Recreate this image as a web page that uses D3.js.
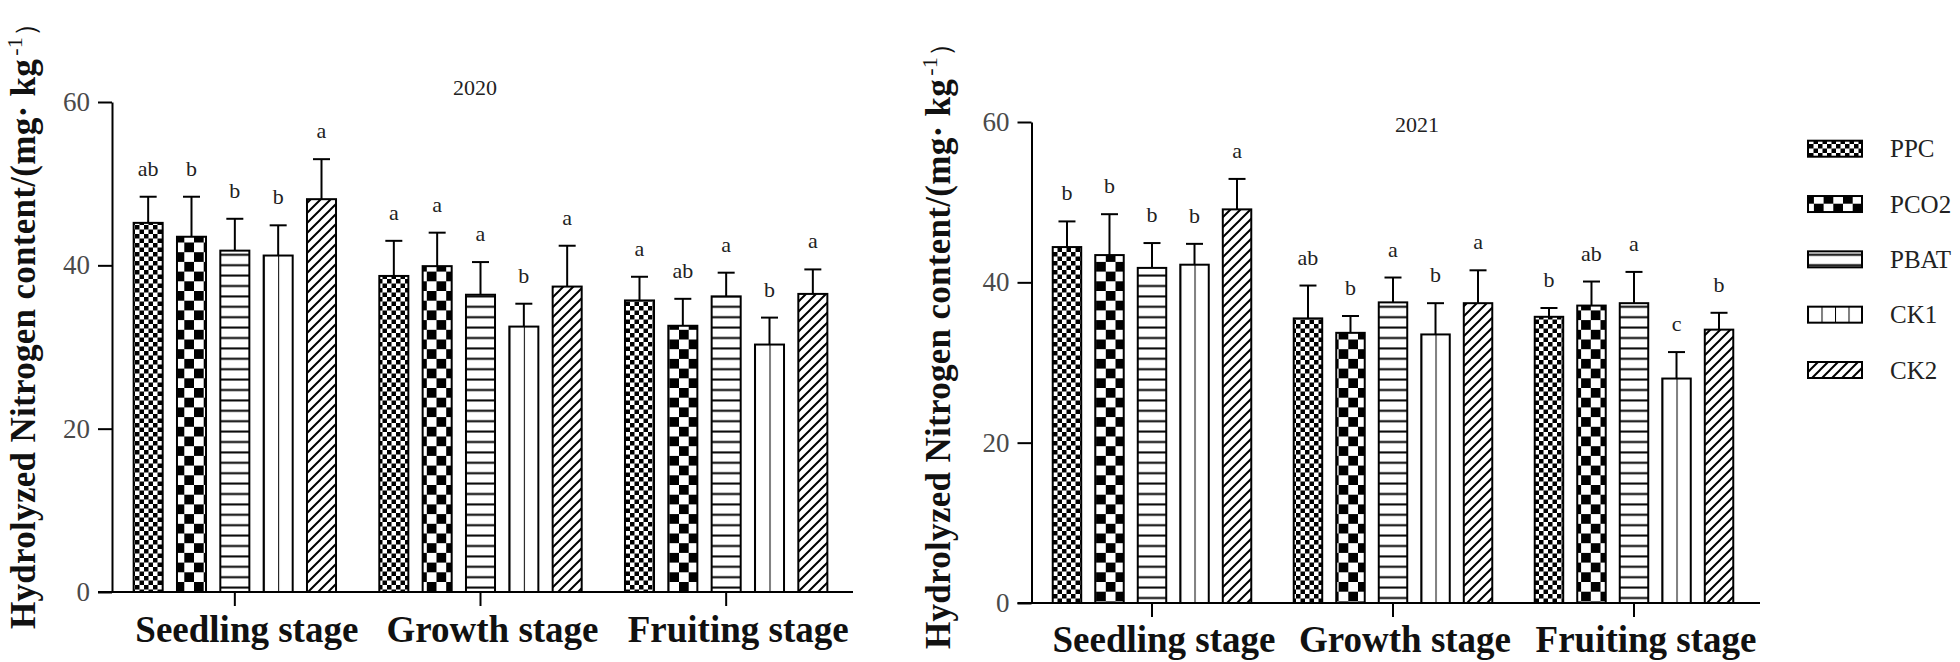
<!DOCTYPE html>
<html><head><meta charset="utf-8">
<script src="https://cdn.jsdelivr.net/npm/d3@7"></script>
<style>
html,body{margin:0;padding:0;background:#fff;}
svg{display:block;}
</style></head>
<body>
<svg id="chart" width="1960" height="662"></svg>
<script>
const categories = ["Seedling stage", "Growth stage", "Fruiting stage"];
const seriesNames = ["PPC", "PCO2", "PBAT", "CK1", "CK2"];
const yTicks = [0, 20, 40, 60];
const years = ["2020", "2021"];

// 2020 means / SD / significance letters (per series across categories)
const ppc2020 = [45.2, 38.7, 35.7];
const pco22020 = [43.5, 39.9, 32.6];
const pbat2020 = [41.8, 36.4, 36.2];
const ck12020 = [41.2, 32.5, 30.3];
const ck22020 = [48.1, 37.4, 36.5];
const ppcErr2020 = [3.2, 4.3, 2.9];
const pco2Err2020 = [4.9, 4.1, 3.3];
const pbatErr2020 = [3.9, 4.0, 2.9];
const ck1Err2020 = [3.7, 2.8, 3.3];
const ck2Err2020 = [4.9, 5.0, 3.0];
const ppcSig2020 = ["ab", "a", "a"];
const pco2Sig2020 = ["b", "a", "ab"];
const pbatSig2020 = ["b", "a", "a"];
const ck1Sig2020 = ["b", "b", "b"];
const ck2Sig2020 = ["a", "a", "a"];

// 2021
const ppc2021 = [44.4, 35.5, 35.7];
const pco22021 = [43.4, 33.7, 37.1];
const pbat2021 = [41.8, 37.5, 37.4];
const ck12021 = [42.2, 33.5, 28.0];
const ck22021 = [49.1, 37.4, 34.1];
const ppcErr2021 = [3.2, 4.1, 1.1];
const pco2Err2021 = [5.1, 2.1, 3.0];
const pbatErr2021 = [3.1, 3.1, 3.9];
const ck1Err2021 = [2.6, 3.9, 3.3];
const ck2Err2021 = [3.8, 4.1, 2.1];
const ppcSig2021 = ["b", "ab", "b"];
const pco2Sig2021 = ["b", "b", "ab"];
const pbatSig2021 = ["b", "a", "a"];
const ck1Sig2021 = ["b", "b", "c"];
const ck2Sig2021 = ["a", "a", "b"];

const values = {
  "2020": [ppc2020, pco22020, pbat2020, ck12020, ck22020],
  "2021": [ppc2021, pco22021, pbat2021, ck12021, ck22021]
};
const errors = {
  "2020": [ppcErr2020, pco2Err2020, pbatErr2020, ck1Err2020, ck2Err2020],
  "2021": [ppcErr2021, pco2Err2021, pbatErr2021, ck1Err2021, ck2Err2021]
};
const sigs = {
  "2020": [ppcSig2020, pco2Sig2020, pbatSig2020, ck1Sig2020, ck2Sig2020],
  "2021": [ppcSig2021, pco2Sig2021, pbatSig2021, ck1Sig2021, ck2Sig2021]
};

const serif = "'Liberation Serif','Times New Roman',serif";
const svg = d3.select("#chart");
const defs = svg.append("defs");

// patterns
function checker(id, c) {
  const p = defs.append("pattern").attr("id", id).attr("patternUnits", "userSpaceOnUse")
    .attr("width", 2 * c).attr("height", 2 * c);
  p.append("rect").attr("width", 2 * c).attr("height", 2 * c).attr("fill", "#fff");
  p.append("rect").attr("width", c).attr("height", c).attr("fill", "#000");
  p.append("rect").attr("x", c).attr("y", c).attr("width", c).attr("height", c).attr("fill", "#000");
}
checker("pat-PPC", 4.5);
checker("pat-PCO2", 9.7);
{
  const p = defs.append("pattern").attr("id", "pat-PBAT").attr("patternUnits", "userSpaceOnUse")
    .attr("width", 20).attr("height", 10.4);
  p.append("rect").attr("width", 20).attr("height", 10.4).attr("fill", "#fff");
  p.append("rect").attr("y", 4.2).attr("width", 20).attr("height", 2).attr("fill", "#000");
}
function vlines(id, frac) {
  const p = defs.append("pattern").attr("id", id).attr("patternUnits", "objectBoundingBox")
    .attr("width", frac).attr("height", 1);
  p.append("rect").attr("width", 400).attr("height", 2000).attr("fill", "#fff");
  p.append("rect").attr("x", -1).attr("width", 2).attr("height", 2000).attr("fill", "#000");
}
vlines("pat-CK1", 0.5);
vlines("pat-CK1-legend", 0.25);
{
  const p = defs.append("pattern").attr("id", "pat-CK2").attr("patternUnits", "userSpaceOnUse")
    .attr("width", 10).attr("height", 10);
  p.append("rect").attr("width", 10).attr("height", 10).attr("fill", "#fff");
  p.append("path").attr("d", "M-5,5 L5,-5 M0,10 L10,0 M5,15 L15,5")
    .attr("stroke", "#000").attr("stroke-width", 2);
}

const panels = [
  { year: "2020", y0: 592, y1: 102, xr: [112, 849], axisEnd: 853, labX: 35, labBottom: 629,
    titleX: 475, titleY: 95, catBase: 642 },
  { year: "2021", y0: 603, y1: 122, xr: [1031.5, 1754.5], axisEnd: 1760, labX: 950, labBottom: 649,
    titleX: 1417, titleY: 132, catBase: 652 }
];

panels.forEach(P => {
  const g = svg.append("g");
  const y = d3.scaleLinear().domain([0, 60]).range([P.y0, P.y1]);
  const x0 = d3.scaleBand().domain(categories).range(P.xr).paddingInner(0.118).paddingOuter(0.059);
  const x1 = d3.scaleBand().domain(seriesNames).range([0, x0.bandwidth()]).paddingInner(0.33).paddingOuter(0.165);
  const axX = P.xr[0];

  const rows = [];
  categories.forEach((c, ci) => {
    seriesNames.forEach((s, si) => {
      rows.push({ cat: c, s, v: values[P.year][si][ci], e: errors[P.year][si][ci], sig: sigs[P.year][si][ci] });
    });
  });

  // bars
  g.selectAll("rect.bar").data(rows).enter().append("rect")
    .attr("class", "bar")
    .attr("x", d => x0(d.cat) + x1(d.s))
    .attr("y", d => y(d.v))
    .attr("width", x1.bandwidth())
    .attr("height", d => y(0) - y(d.v))
    .attr("fill", d => `url(#pat-${d.s})`)
    .attr("stroke", "#000").attr("stroke-width", 2);

  // error bars
  const cx = d => x0(d.cat) + x1(d.s) + x1.bandwidth() / 2;
  g.selectAll("line.err").data(rows).enter().append("line")
    .attr("x1", cx).attr("x2", cx)
    .attr("y1", d => y(d.v)).attr("y2", d => y(d.v + d.e))
    .attr("stroke", "#000").attr("stroke-width", 2);
  g.selectAll("line.cap").data(rows).enter().append("line")
    .attr("x1", d => cx(d) - 8.5).attr("x2", d => cx(d) + 8.5)
    .attr("y1", d => y(d.v + d.e)).attr("y2", d => y(d.v + d.e))
    .attr("stroke", "#000").attr("stroke-width", 2);

  // significance letters
  g.selectAll("text.sig").data(rows).enter().append("text")
    .attr("x", cx).attr("y", d => y(d.v + d.e) - 21)
    .attr("text-anchor", "middle")
    .attr("font-family", serif).attr("font-size", 22).attr("fill", "#222")
    .text(d => d.sig);

  // y axis
  const ya = g.append("g").attr("transform", `translate(${axX},0)`)
    .call(d3.axisLeft(y).tickValues(yTicks).tickSize(14).tickSizeOuter(0).tickFormat(d3.format("d")));
  ya.selectAll("path,line").attr("stroke", "#000").attr("stroke-width", 2);
  ya.selectAll("text").attr("x", -22).attr("font-family", serif).attr("font-size", 27).attr("fill", "#4a4a4a");

  // x axis
  const xa = g.append("g").attr("transform", `translate(0,${y(0)})`)
    .call(d3.axisBottom(x0).tickSize(14).tickSizeOuter(0));
  xa.select(".domain").remove();
  xa.selectAll("line").attr("stroke", "#000").attr("stroke-width", 2);
  xa.selectAll("text").attr("y", P.catBase - y(0)).attr("dy", 0).attr("dx", 12)
    .attr("font-family", serif).attr("font-size", 37).attr("font-weight", "bold").attr("fill", "#111");
  g.append("line").attr("x1", axX - 14).attr("x2", P.axisEnd).attr("y1", y(0)).attr("y2", y(0))
    .attr("stroke", "#000").attr("stroke-width", 2);

  // year title
  g.append("text").attr("x", P.titleX).attr("y", P.titleY).attr("text-anchor", "middle")
    .attr("font-family", serif).attr("font-size", 22).attr("fill", "#222").text(P.year);

  // y label
  const t = g.append("text")
    .attr("transform", `translate(${P.labX},${P.labBottom}) rotate(-90)`)
    .attr("font-family", serif).attr("font-size", 35).attr("font-weight", "bold").attr("fill", "#111")
    .attr("letter-spacing", 0.3);
  t.append("tspan").text("Hydrolyzed Nitrogen content/(mg· kg");
  t.append("tspan").attr("dy", -13).attr("dx", 3).attr("font-size", 22).attr("font-weight", "normal").text("-1");
  t.append("tspan").attr("dy", 13).attr("font-weight", "normal").attr("font-size", 28).text("）");
});

// legend
const legY = d3.scalePoint().domain(seriesNames).range([148.7, 370]);
const lg = svg.append("g");
seriesNames.forEach(s => {
  lg.append("rect").attr("x", 1808).attr("y", legY(s) - 8).attr("width", 54).attr("height", 16)
    .attr("fill", s === "CK1" ? "url(#pat-CK1-legend)" : `url(#pat-${s})`)
    .attr("stroke", "#000").attr("stroke-width", 2);
  lg.append("text").attr("x", 1890).attr("y", legY(s)).attr("dy", "0.35em")
    .attr("font-family", serif).attr("font-size", 25).attr("fill", "#222").text(s);
});
</script>
</body></html>
